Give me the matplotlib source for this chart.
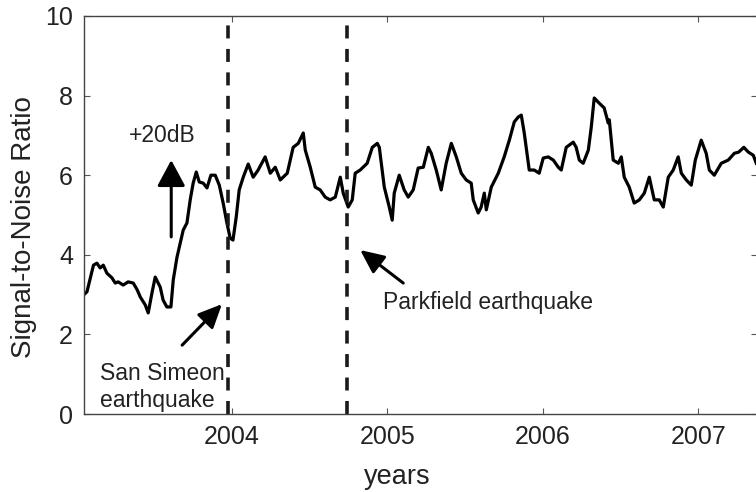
"""Signal-to-noise ratio time series with earthquake markers."""

import matplotlib
matplotlib.use("Agg")
import matplotlib.pyplot as plt

plt.rcParams["font.family"] = ["Liberation Sans", "DejaVu Sans"]

# traced SNR curve (decimal years, ratio)
years = [
    2003.047, 2003.069, 2003.111, 2003.133, 2003.154, 2003.174, 2003.197, 2003.230,
    2003.251, 2003.270, 2003.302, 2003.334, 2003.367, 2003.392, 2003.412, 2003.444,
    2003.463, 2003.487, 2003.508, 2003.540, 2003.559, 2003.583, 2003.609, 2003.624,
    2003.648, 2003.669, 2003.688, 2003.712, 2003.733, 2003.752, 2003.772, 2003.791,
    2003.817, 2003.841, 2003.866, 2003.894, 2003.920, 2003.945, 2003.969, 2003.990,
    2004.008, 2004.029, 2004.048, 2004.074, 2004.106, 2004.138, 2004.170, 2004.215,
    2004.248, 2004.280, 2004.312, 2004.357, 2004.395, 2004.428, 2004.460, 2004.473,
    2004.505, 2004.537, 2004.569, 2004.601, 2004.633, 2004.666, 2004.698, 2004.717,
    2004.749, 2004.775, 2004.794, 2004.826, 2004.871, 2004.904, 2004.936, 2004.949,
    2004.981, 2005.013, 2005.032, 2005.045, 2005.077, 2005.109, 2005.135, 2005.167,
    2005.199, 2005.232, 2005.264, 2005.283, 2005.315, 2005.347, 2005.379, 2005.412,
    2005.444, 2005.476, 2005.508, 2005.540, 2005.553, 2005.585, 2005.604, 2005.624,
    2005.637, 2005.669, 2005.714, 2005.752, 2005.785, 2005.817, 2005.842, 2005.862,
    2005.881, 2005.913, 2005.945, 2005.977, 2006.003, 2006.035, 2006.068, 2006.100,
    2006.119, 2006.151, 2006.196, 2006.215, 2006.235, 2006.260, 2006.293, 2006.312,
    2006.331, 2006.363, 2006.395, 2006.421, 2006.428, 2006.453, 2006.486, 2006.505,
    2006.524, 2006.556, 2006.588, 2006.621, 2006.653, 2006.685, 2006.717, 2006.749,
    2006.775, 2006.807, 2006.839, 2006.871, 2006.891, 2006.923, 2006.955, 2006.981,
    2007.019, 2007.051, 2007.071, 2007.103, 2007.148, 2007.193, 2007.232, 2007.260,
    2007.293, 2007.322, 2007.354, 2007.373,
]
snr = [
    2.99, 3.07, 3.74, 3.79, 3.67, 3.74, 3.54, 3.42,
    3.29, 3.32, 3.24, 3.32, 3.29, 3.12, 2.94, 2.74,
    2.54, 3.04, 3.44, 3.19, 2.86, 2.69, 2.69, 3.37,
    3.94, 4.30, 4.62, 4.80, 5.38, 5.80, 6.08, 5.83,
    5.80, 5.68, 6.00, 6.00, 5.75, 5.30, 4.80, 4.42,
    4.37, 4.95, 5.63, 5.95, 6.28, 5.95, 6.13, 6.46,
    6.05, 6.20, 5.88, 6.05, 6.70, 6.80, 7.06, 6.63,
    6.20, 5.70, 5.63, 5.45, 5.38, 5.45, 5.95, 5.55,
    5.20, 5.38, 6.05, 6.13, 6.30, 6.70, 6.80, 6.70,
    5.70, 5.20, 4.87, 5.55, 6.00, 5.63, 5.45, 5.63,
    6.18, 6.20, 6.70, 6.55, 6.13, 5.63, 6.30, 6.80,
    6.46, 6.05, 5.88, 5.80, 5.38, 5.05, 5.20, 5.55,
    5.13, 5.70, 6.05, 6.46, 6.88, 7.34, 7.46, 7.51,
    7.06, 6.13, 6.13, 6.05, 6.43, 6.46, 6.38, 6.20,
    6.13, 6.70, 6.83, 6.70, 6.38, 6.30, 6.63, 7.21,
    7.94, 7.81, 7.69, 7.31, 7.39, 6.38, 6.30, 6.46,
    5.95, 5.70, 5.30, 5.38, 5.55, 5.95, 5.38, 5.38,
    5.20, 5.95, 6.13, 6.46, 6.05, 5.88, 5.75, 6.38,
    6.88, 6.55, 6.13, 6.00, 6.30, 6.38, 6.55, 6.58,
    6.70, 6.58, 6.50, 6.30,
]

quake_years = [2003.976, 2004.74]  # San Simeon, Parkfield
year_ticks = [2004, 2005, 2006, 2007]
snr_ticks = [0, 2, 4, 6, 8, 10]

TEXT = "#222222"

fig = plt.figure(figsize=(7.56, 4.92), dpi=100, facecolor="white")
ax = fig.add_axes([0.1111, 0.1585, 0.8907, 0.809])

ax.plot(years, snr, color="black", lw=2.3, solid_joinstyle="round")

for q in quake_years:
    ln = ax.axvline(q, color="#1a1a1a", lw=2.6)
    ln.set_dashes((3.6, 2.9))

ax.set_xlim(2003.05, 2007.38)
ax.set_ylim(0, 10)
ax.set_xticks(year_ticks)
ax.set_yticks(snr_ticks)
ax.tick_params(direction="in", length=4, width=0.8, color="#555555",
               top=True, right=True, labelsize=18, labelcolor=TEXT, pad=8)
for s in ax.spines.values():
    s.set_linewidth(1.0)
    s.set_color("#444444")

# the source figure is cropped on the right, so labels sit off-centre
ax.set_xlabel("years", fontsize=19.5, color=TEXT)
ax.xaxis.set_label_coords(0.465, -0.125)
ax.set_ylabel("Signal-to-Noise Ratio", fontsize=20, color=TEXT)
ax.yaxis.set_label_coords(-0.07, 0.47)

# +20dB arrow
ax.annotate("", xy=(2003.611, 6.38), xytext=(2003.611, 4.45),
            arrowprops=dict(arrowstyle="-|>,head_length=0.8,head_width=0.43",
                            mutation_scale=20, color="black", lw=2.2,
                            shrinkA=0, shrinkB=0))
ax.text(2003.556, 7.01, "+20dB", fontsize=16.5, color=TEXT,
        ha="center", va="center")

# San Simeon
ax.annotate("", xy=(2003.937, 2.76), xytext=(2003.681, 1.73),
            arrowprops=dict(arrowstyle="-|>,head_length=0.72,head_width=0.33",
                            mutation_scale=20, color="black", lw=2.2,
                            shrinkA=0, shrinkB=0))
ax.text(2003.154, 0.68, "San Simeon\nearthquake", fontsize=16.5, color=TEXT,
        ha="left", va="center", linespacing=1.25)

# Parkfield
ax.annotate("", xy=(2004.826, 4.12), xytext=(2005.103, 3.29),
            arrowprops=dict(arrowstyle="-|>,head_length=0.72,head_width=0.33",
                            mutation_scale=20, color="black", lw=2.2,
                            shrinkA=0, shrinkB=0))
ax.text(2004.974, 2.81, "Parkfield earthquake", fontsize=16.5, color=TEXT,
        ha="left", va="center")

fig.savefig("out.png", dpi=100, facecolor="white")
plt.close(fig)
